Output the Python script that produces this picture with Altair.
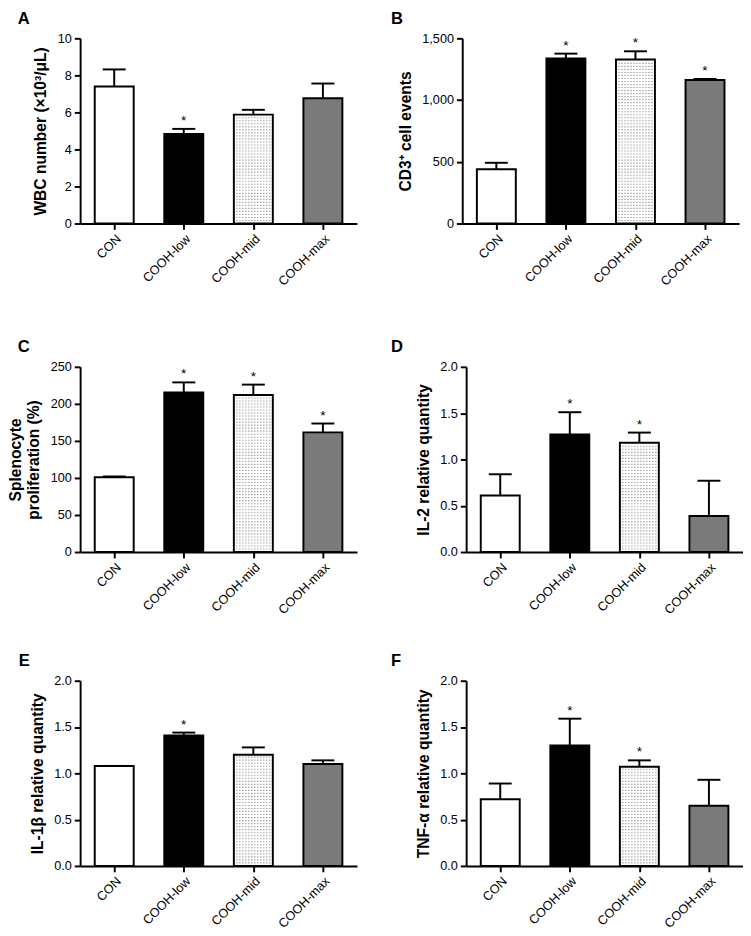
import altair as alt
import pandas as pd
import json

categories = ["CON", "COOH-low", "COOH-mid", "COOH-max"]
bar_fills = ["white", "black", "white", "#7a7a7a"]

# Panel A: WBC number
a_mean = [7.40, 4.84, 5.88, 6.77]
a_upper = [8.32, 5.11, 6.14, 7.56]
a_star = [0, 1, 0, 0]
# Panel B: CD3+ cell events
b_mean = [440, 1337, 1329, 1163]
b_upper = [492, 1376, 1395, 1171]
b_star = [0, 1, 1, 1]
# Panel C: Splenocyte proliferation (%)
c_mean = [101, 215.5, 212, 161.5]
c_upper = [102, 229, 226, 173.5]
c_star = [0, 1, 1, 1]
# Panel D: IL-2 relative quantity
d_mean = [0.61, 1.27, 1.18, 0.39]
d_upper = [0.84, 1.51, 1.29, 0.77]
d_star = [0, 1, 1, 0]
# Panel E: IL-1beta relative quantity
e_mean = [1.08, 1.41, 1.20, 1.10]
e_upper = [1.08, 1.44, 1.28, 1.14]
e_star = [0, 1, 0, 0]
# Panel F: TNF-alpha relative quantity
f_mean = [0.72, 1.30, 1.07, 0.65]
f_upper = [0.89, 1.59, 1.14, 0.93]
f_star = [0, 1, 1, 0]

FONT = "Liberation Sans"
W, H = 284, 190
HALF_BAR = 0.28   # bar half width in category units
HALF_CAP = 0.165  # error cap half width in category units
XDOM = [-0.49, 3.49]

label_expr = json.dumps(categories) + "[round(datum.value)]"


def panel(letter, ytitle, mean, upper, stars, ymax, ticks, fmt, dx=-64):
    idx = list(range(len(categories)))
    df = pd.DataFrame({
        "i": idx,
        "cat": categories,
        "mean": mean,
        "upper": upper,
        "star": ["*" if s else "" for s in stars],
        "fill": bar_fills,
    })
    df["x0"] = df["i"] - HALF_BAR
    df["x1"] = df["i"] + HALF_BAR
    df["c0"] = df["i"] - HALF_CAP
    df["c1"] = df["i"] + HALF_CAP

    xscale = alt.Scale(domain=XDOM, nice=False, zero=False)
    x_axis = alt.Axis(title=None, values=idx, labelExpr=label_expr,
                      labelAngle=-45, labelAlign="right", labelBaseline="top",
                      labelPadding=3, tickSize=6, tickWidth=2, domainWidth=2,
                      grid=False, labelFlush=False, labelOverlap=False,
                      tickCount=10)
    yscale = alt.Scale(domain=[0, ymax], nice=False, zero=True)
    y_axis = alt.Axis(values=[float(t) for t in ticks],
                      labelExpr=f"format(datum.value, '{fmt}')",
                      tickCount=20,
                      title=ytitle, grid=False,
                      tickSize=6, tickWidth=2, domainWidth=2,
                      labelPadding=3, titlePadding=9, labelOverlap=False,
                      labelFlush=False)
    base = alt.Chart(df)
    bars = base.mark_bar(stroke="black", strokeWidth=2).encode(
        x=alt.X("x0:Q", scale=xscale, axis=x_axis), x2="x1:Q",
        y=alt.Y("mean:Q", scale=yscale, axis=y_axis), y2=alt.datum(0),
        fill=alt.Fill("fill:N", scale=None))
    err = base.mark_rule(color="black", strokeWidth=2).encode(
        x="i:Q", y="mean:Q", y2="upper:Q")
    cap = base.mark_rule(color="black", strokeWidth=2).encode(
        x="c0:Q", x2="c1:Q", y="upper:Q")
    star = base.mark_text(baseline="bottom", dy=-1, fontSize=14,
                          font=FONT).encode(
        x="i:Q", y="upper:Q", text="star:N")

    # stipple texture of the COOH-mid bar
    mid_i = 2
    mid_val = mean[mid_i]
    dyv = ymax * 3.1 / H
    ncol = 12
    dxv = (2 * HALF_BAR) / (ncol + 1)
    rows = []
    k = 1
    while k * dyv < mid_val - 0.6 * dyv:
        for c in range(ncol):
            rows.append({"dx": mid_i - HALF_BAR + (c + 1) * dxv, "v": k * dyv})
        k += 1
    dots = alt.Chart(pd.DataFrame(rows)).mark_square(
        size=1.3, color="#888888", opacity=1).encode(
        x=alt.X("dx:Q"), y=alt.Y("v:Q"))

    return alt.layer(bars, dots, err, cap, star).properties(
        width=W, height=H,
        title=alt.TitleParams(text=letter, anchor="start", frame="group",
                              dx=dx, offset=5, fontSize=17,
                              fontWeight="bold", font=FONT, color="black"),
    )


pA = panel("A", "WBC number (×10³/μL)", a_mean, a_upper, a_star, 10,
           [0, 2, 4, 6, 8, 10], "d")
pB = panel("B", "CD3⁺ cell events", b_mean, b_upper, b_star, 1500,
           [0, 500, 1000, 1500], ",d", dx=-73)
pC = panel("C", ["Splenocyte", "proliferation (%)"], c_mean, c_upper, c_star,
           250, [0, 50, 100, 150, 200, 250], "d")
pD = panel("D", "IL-2 relative quantity", d_mean, d_upper, d_star, 2.0,
           [0, 0.5, 1.0, 1.5, 2.0], ".1f", dx=-77)
pE = panel("E", "IL-1β relative quantity", e_mean, e_upper, e_star, 2.0,
           [0, 0.5, 1.0, 1.5, 2.0], ".1f", dx=-63)
pF = panel("F", "TNF-α  relative quantity", f_mean, f_upper, f_star, 2.0,
           [0, 0.5, 1.0, 1.5, 2.0], ".1f", dx=-77)

row1 = alt.hconcat(pA, pB, spacing=35)
row2 = alt.hconcat(pC, pD, spacing=35)
row3 = alt.hconcat(pE, pF, spacing=35)

lower = alt.vconcat(row2, row3, spacing=36)
chart = alt.vconcat(row1, lower, spacing=51).properties(
    padding={"left": 0, "top": -10, "right": 0, "bottom": 2}
).configure_view(stroke=None).configure_axis(
    labelFont=FONT, labelFontSize=13, labelColor="black",
    titleFont=FONT, titleFontSize=16, titleFontWeight="bold", titleColor="black",
    domainColor="black", tickColor="black", labelOverlap=False,
)

chart.save("out.html", embed_options={"renderer": "svg", "actions": False})
